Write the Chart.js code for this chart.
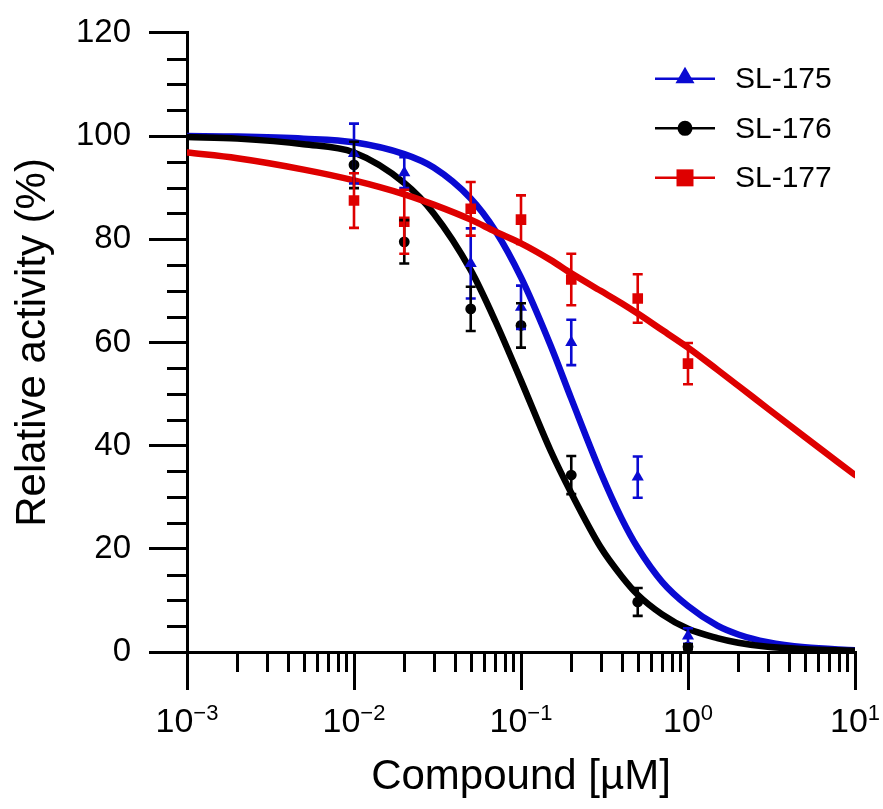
<!DOCTYPE html>
<html><head><meta charset="utf-8">
<script src="https://cdn.jsdelivr.net/npm/chart.js@4.4.1/dist/chart.umd.min.js"></script>
<style>html,body{margin:0;padding:0;background:#fff;}canvas{display:block;}</style>
</head><body>
<canvas id="c" width="883" height="809"></canvas>
<script>
// ---- data ----
const seriesNames = ['SL-175', 'SL-176', 'SL-177'];
const doses = [0.01, 0.02, 0.05, 0.1, 0.2, 0.5, 1];
const sl175Mean = [96.6, 92.9, 75.3, 66.8, 60.0, 33.9, 3.1];
const sl175Err  = [5.8, 3.0, 6.8, 4.2, 4.4, 4.0, 1.5];
const sl176Mean = [94.4, 79.5, 66.5, 63.3, 34.3, 9.7, 1.0];
const sl176Err  = [4.5, 4.2, 4.3, 4.3, 3.7, 2.7, 0.5];
const sl177Mean = [87.5, 83.4, 85.9, 83.8, 72.2, 68.5, 55.9];
const sl177Err  = [5.3, 6.2, 5.2, 4.7, 5.0, 4.7, 4.0];
const curveDoses = [0.001, 0.002, 0.005, 0.01, 0.02, 0.03, 0.05, 0.07, 0.1, 0.15, 0.2, 0.3, 0.4, 0.5, 0.7, 1, 1.5, 2, 3, 5, 10];
const sl175Fit = [100, 99.9, 99.5, 98.8, 96.5, 93.9, 87.9, 81.7, 72.6, 59.5, 49.1, 34.8, 25.9, 20.2, 13.6, 8.9, 5.1, 3.4, 1.9, 0.9, 0.35];
const sl176Fit = [99.8, 99.5, 98.4, 96.8, 90.9, 85.0, 74.0, 64.2, 52.6, 39.1, 30.8, 20.3, 14.7, 11.1, 7.3, 4.5, 2.7, 1.8, 1.0, 0.55, 0.25];
const sl177Fit = [96.8, 95.7, 93.5, 91.4, 88.7, 86.7, 83.8, 81.5, 79.2, 76.0, 73.4, 70.0, 67.6, 65.6, 62.4, 59.0, 54.7, 51.6, 47.2, 41.7, 34.3];
const xMajorTicks = [0.001, 0.01, 0.1, 1, 10];
const xTickExponents = ['\u22123', '\u22122', '\u22121', '0', '1'];
const xMinorTicks = [0.002,0.003,0.004,0.005,0.006,0.007,0.008,0.009,
                     0.02,0.03,0.04,0.05,0.06,0.07,0.08,0.09,
                     0.2,0.3,0.4,0.5,0.6,0.7,0.8,0.9,
                     2,3,4,5,6,7,8,9];
const yMajorTicks = [0, 20, 40, 60, 80, 100, 120];
const yMinorTicks = [5,10,15,25,30,35,45,50,55,65,70,75,85,90,95,105,110,115];
const xTitle = 'Compound [\u00b5M]';
const yTitle = 'Relative activity (%)';

// ---- styling ----
const FONT = '"Liberation Sans", Arial, sans-serif';
const BLUE = '#0a0ad2', BLACK = '#000000', RED = '#de0000';
const colors = [BLUE, BLACK, RED];
const styles = ['triangle', 'circle', 'rect'];
const means = [sl175Mean, sl176Mean, sl177Mean];
const errs = [sl175Err, sl176Err, sl177Err];
const fits = [sl175Fit, sl176Fit, sl177Fit];

const toXY = (xs, ys) => xs.map((x, i) => ({x: x, y: ys[i]}));

const datasets = [];
fits.forEach((f, i) => {
  datasets.push({
    type: 'line', label: seriesNames[i] + ' fit', data: toXY(curveDoses, f),
    borderColor: colors[i], backgroundColor: colors[i], borderWidth: 6.5,
    pointRadius: 0, cubicInterpolationMode: 'monotone', fill: false,
    borderCapStyle: 'round', borderJoinStyle: 'round',
    order: [3, 2, 1][i]
  });
});
means.forEach((m, i) => {
  datasets.push({
    type: 'scatter', label: seriesNames[i], data: toXY(doses, m),
    showLine: false, pointStyle: styles[i],
    pointRadius: [7, 5.4, 7.5][i], pointBackgroundColor: colors[i],
    pointBorderColor: colors[i], pointBorderWidth: 0, order: 0
  });
});

function drawMarker(ctx, style, x, y, r) {
  ctx.beginPath();
  if (style === 'triangle') {
    ctx.moveTo(x, y - r);
    ctx.lineTo(x + r * 0.866, y + r * 0.5);
    ctx.lineTo(x - r * 0.866, y + r * 0.5);
    ctx.closePath();
  } else if (style === 'circle') {
    ctx.arc(x, y, r, 0, Math.PI * 2);
  } else {
    ctx.rect(x - r, y - r, 2 * r, 2 * r);
  }
  ctx.fill();
}

const extras = {
  id: 'extras',
  afterDatasetsDraw(chart) {
    const ctx = chart.ctx, xs = chart.scales.x, ys = chart.scales.y;
    ctx.save();
    ctx.lineWidth = 2.6;
    means.forEach((m, s) => {
      ctx.strokeStyle = colors[s];
      doses.forEach((d, i) => {
        const px = xs.getPixelForValue(d);
        const top = ys.getPixelForValue(m[i] + errs[s][i]);
        const bot = ys.getPixelForValue(m[i] - errs[s][i]);
        ctx.beginPath();
        ctx.moveTo(px, top); ctx.lineTo(px, bot);
        ctx.moveTo(px - 5, top); ctx.lineTo(px + 5, top);
        ctx.moveTo(px - 5, bot); ctx.lineTo(px + 5, bot);
        ctx.stroke();
      });
    });
    ctx.restore();
  },
  afterDraw(chart) {
    const ctx = chart.ctx, xs = chart.scales.x, ys = chart.scales.y;
    const area = chart.chartArea;
    ctx.save();
    // minor ticks
    ctx.strokeStyle = '#000'; ctx.lineWidth = 3;
    ctx.beginPath();
    xMinorTicks.forEach(v => {
      const px = Math.round(xs.getPixelForValue(v)) + 0.5;
      ctx.moveTo(px, area.bottom); ctx.lineTo(px, area.bottom + 20);
    });
    yMinorTicks.forEach(v => {
      const py = Math.round(ys.getPixelForValue(v)) + 0.5;
      ctx.moveTo(area.left, py); ctx.lineTo(area.left - 20, py);
    });
    ctx.stroke();
    // x tick labels with superscript exponents
    ctx.fillStyle = '#000';
    ctx.textBaseline = 'alphabetic';
    xMajorTicks.forEach((v, i) => {
      const px = xs.getPixelForValue(v);
      ctx.font = '34px ' + FONT;
      const w1 = ctx.measureText('10').width;
      ctx.font = '22px ' + FONT;
      const w2 = ctx.measureText(xTickExponents[i]).width;
      const start = px - (w1 + w2) / 2;
      ctx.font = '34px ' + FONT;
      ctx.textAlign = 'left';
      ctx.fillText('10', start, area.bottom + 80);
      ctx.font = '22px ' + FONT;
      ctx.fillText(xTickExponents[i], start + w1, area.bottom + 68);
    });
    // legend
    const lx0 = area.right - 200, lx1 = area.right - 140;
    seriesNames.forEach((name, i) => {
      const y = area.top + 46 + i * 49.5;
      ctx.strokeStyle = colors[i]; ctx.fillStyle = colors[i];
      ctx.lineWidth = 2.5;
      ctx.beginPath(); ctx.moveTo(lx0, y); ctx.lineTo(lx1, y); ctx.stroke();
      drawMarker(ctx, styles[i], (lx0 + lx1) / 2, i === 0 ? y - 1 : y, [11, 7.5, 8.5][i]);
      ctx.fillStyle = '#000';
      ctx.font = '30px ' + FONT;
      ctx.textAlign = 'left'; ctx.textBaseline = 'middle';
      ctx.fillText(name, area.right - 120, y + 1);
    });
    ctx.restore();
  }
};

new Chart(document.getElementById('c'), {
  type: 'scatter',
  data: {datasets: datasets},
  plugins: [extras],
  options: {
    responsive: false, animation: false, devicePixelRatio: 1,
    layout: {padding: {left: 0, right: 28, top: 20, bottom: 0}},
    plugins: {legend: {display: false}, tooltip: {enabled: false}},
    scales: {
      x: {
        type: 'logarithmic', position: 'bottom', min: 0.001, max: 10,
        afterBuildTicks: s => { s.ticks = xMajorTicks.map(v => ({value: v, major: true})); },
        afterFit: s => { s.height = 157; },
        ticks: {display: false},
        grid: {display: true, drawOnChartArea: false, drawTicks: true, tickLength: 38, tickWidth: 3, lineWidth: 3, tickColor: '#000', color: '#000'},
        border: {display: true, color: '#000', width: 3},
        title: {display: true, text: xTitle, color: '#000', font: {family: FONT, size: 42}, padding: {top: 0, bottom: 6}}
      },
      y: {
        type: 'linear', min: 0, max: 120,
        afterBuildTicks: s => { s.ticks = yMajorTicks.map(v => ({value: v})); },
        afterFit: s => { s.width = 187; },
        ticks: {color: '#000', font: {family: FONT, size: 33, lineHeight: 0.9}, padding: 18},
        grid: {display: true, drawOnChartArea: false, drawTicks: true, tickLength: 38, tickWidth: 3, lineWidth: 3, tickColor: '#000', color: '#000'},
        border: {display: true, color: '#000', width: 3},
        title: {display: true, text: yTitle, color: '#000', font: {family: FONT, size: 42}, padding: {top: 8, bottom: 0}}
      }
    }
  }
});
</script>
</body></html>
